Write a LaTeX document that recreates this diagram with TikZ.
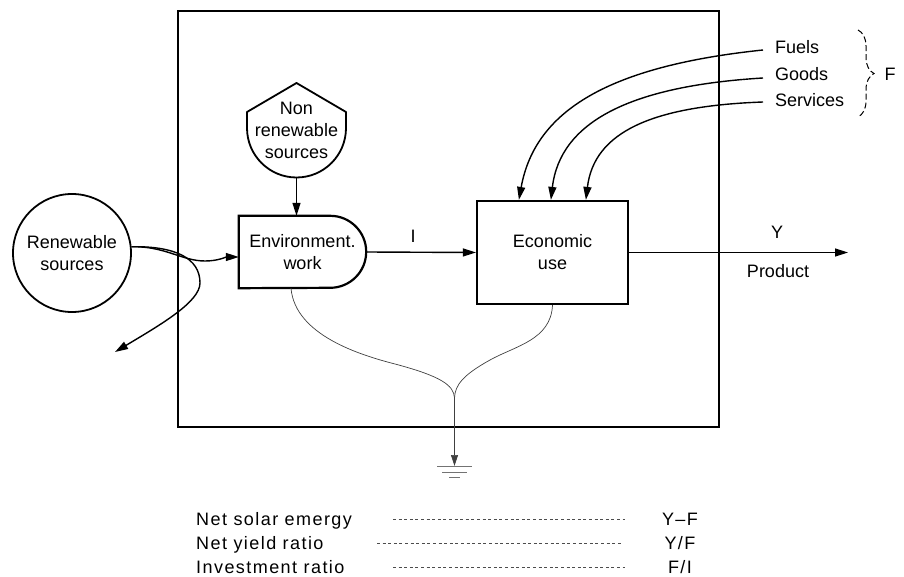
\documentclass[tikz,border=0pt]{standalone}
\usepackage{fontspec}
\setmainfont{Liberation Sans}
\newfontfamily\widefont[LetterSpace=8]{Liberation Sans}
\usetikzlibrary{arrows.meta,calc,decorations.pathreplacing}

\begin{document}
\begin{tikzpicture}[x=1pt,y=-1pt,
  every node/.style={font=\fontsize{18}{22}\selectfont, inner sep=0pt},
  box/.style={draw, line width=2.2pt},
  frame/.style={line width=1.4pt},
  flow/.style={line width=1.4pt, -{Triangle[length=13pt,width=8pt]}},
  sink/.style={line width=0.7pt, draw=black!75},
  groundbar/.style={line width=1pt, draw=black!55},
  leader/.style={line width=0.6pt, draw=black!70, dash pattern=on 3pt off 2.6pt},
  rowlabel/.style={anchor=base west, font=\fontsize{18}{22}\widefont},
  rowvalue/.style={anchor=base, font=\fontsize{18}{22}\widefont}]
\useasboundingbox (0,0) rectangle (904,577);

% system boundary
\draw[frame] (178,11) rectangle (719,427);

% renewable sources
\node[circle, draw, line width=1.8pt, minimum size=118pt, align=center]
  (ren) at (72,253) {Renewable\\sources};

% non renewable storage (shield outline)
\node[align=center] (nr) at (296.5,130) {Non\\renewable\\sources};
\draw[line width=1.8pt, line join=round]
  (247,128) -- (247,112) -- (296.5,83) -- (346,112) -- (346,128)
  arc[start angle=0, end angle=180, radius=49.5] -- cycle;
\coordinate (nrb) at (296.5,177.5);

% environmental work (D-shaped)
\node[minimum width=127pt, minimum height=72pt, align=center]
  (env) at (302.5,252) {Environment.\\work};
\draw[line width=2.2pt]
  ($(env.north east)+(-36,0)$) arc[start angle=-90, end angle=90, radius=36]
  -- (env.south west) -- (env.north west) -- cycle;

% economic use
\node[box, minimum width=151pt, minimum height=103pt, align=center]
  (econ) at (552.5,252.5) {Economic\\use};

% purchased inputs
\node[anchor=west, inner xsep=12pt] (fuels) at (763,47) {Fuels};
\node[anchor=west, inner xsep=12pt] (goods) at (763,74) {Goods};
\node[anchor=west, inner xsep=12pt] (services) at (763,100) {Services};
\draw[line width=1pt, dash pattern=on 6pt off 3pt,
      decorate, decoration={brace, amplitude=16pt}]
  (858,30) -- (858,117);
\node (F) at (890,74) {F};

% flows
\draw[flow] (nrb) -- (nrb |- env.north);
\draw[flow] (ren.6) .. controls (165,246) and (182,261) .. (205,261)
  .. controls (218,261) and (226,257) .. ($(env.west)+(0,5)$);
\coordinate (leak) at (115,352);
\draw[flow] (ren.6) .. controls (175,246) and (200,258) .. (200,283)
  .. controls (200,302) and (160,325) .. (leak);
\draw[flow] (env.east) -- (econ.west);
\node (I) at (413,236) {I};
\coordinate (yend) at (848,252.5);
\draw[flow] (econ.east) -- (yend);
\node (Y) at (777,232) {Y};
\node (product) at (778,271) {Product};

\draw[flow] ($(fuels.west)+(0,3)$) .. controls (610,66) and (535,110)
  .. ($(econ.north west)+(43,0)$);
\draw[flow] ($(goods.west)+(0,4)$) .. controls (630,86) and (560,122)
  .. ($(econ.north west)+(75,0)$);
\draw[flow] ($(services.west)+(0,2)$) .. controls (652,106) and (594,132)
  .. ($(econ.north west)+(110,0)$);

% heat sink
\coordinate (join) at (454.5,398);
\coordinate (gnd) at (454.5,466);
\draw[sink] ($(env.south)+(-11.5,0)$) .. controls (295,335) and (360,355)
  .. (395,364) .. controls (440,376) and (454,385) .. (join);
\draw[sink] (econ.south) .. controls (551,340) and (515,346)
  .. (490,360) .. controls (463,375) and (455,385) .. (join);
\draw[sink, -{Triangle[length=11pt,width=7pt]}] (join) -- (gnd);
\draw[groundbar] (437,466) -- (472,466);
\draw[groundbar] (442,472) -- (467,472);
\draw[groundbar] (449,477.5) -- (460,477.5);

% indices
\node[rowlabel] (r1) at (196,525) {Net solar emergy};
\node[rowlabel] (r2) at (196,549) {Net yield ratio};
\node[rowlabel] (r3) at (196,573) {Investment ratio};
\node[rowvalue] (v1) at (680,525) {Y–F};
\node[rowvalue] (v2) at (680,549) {Y/F};
\node[rowvalue] (v3) at (680,573) {F/I};
\draw[leader] (393,519) -- (625,519);
\draw[leader] (377,543) -- (622,543);
\draw[leader] (393,567) -- (625,567);
\end{tikzpicture}
\end{document}
